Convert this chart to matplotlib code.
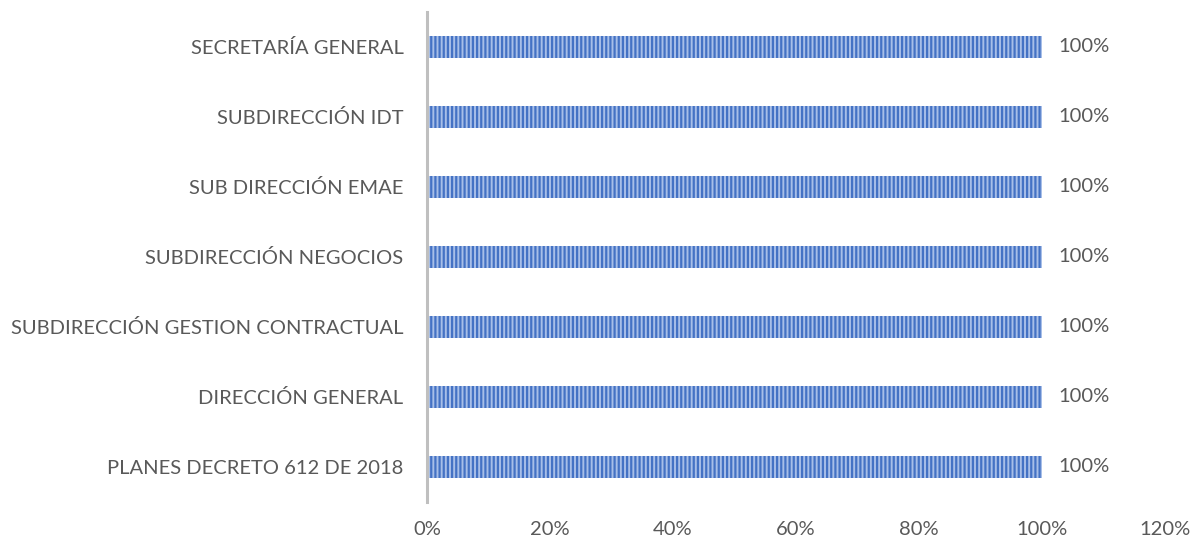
import numpy as np
import matplotlib.pyplot as plt
from matplotlib.ticker import FuncFormatter

plt.rcParams['font.family'] = ['Lato', 'DejaVu Sans']
plt.rcParams['hatch.linewidth'] = 1.6

# Datos
areas = ['PLANES DECRETO 612 DE 2018',
         'DIRECCIÓN GENERAL',
         'SUBDIRECCIÓN GESTION CONTRACTUAL',
         'SUBDIRECCIÓN NEGOCIOS',
         'SUB DIRECCIÓN EMAE',
         'SUBDIRECCIÓN IDT',
         'SECRETARÍA GENERAL']
avance = [1.0, 1.0, 1.0, 1.0, 1.0, 1.0, 1.0]
xticks = [0, 0.2, 0.4, 0.6, 0.8, 1.0, 1.2]

fig = plt.figure(figsize=(11.93, 5.42), dpi=100)
ax = fig.add_axes([0.358, 0.074, 0.6185, 0.904])

y = np.arange(len(areas))
bars = ax.barh(y, avance, height=0.32, color='#A8BFE8', edgecolor='#4472C4',
               hatch='||||', linewidth=0)

txt = '#595959'
fs = 14.5
for yi, v in zip(y, avance):
    ax.text(v + 0.026, yi, '%d%%' % round(v * 100), va='center', ha='left',
            fontsize=fs, color=txt)

ax.set_yticks(y)
ax.set_yticklabels(areas, fontsize=fs, color=txt)
ax.set_ylim(-0.5, len(areas) - 0.5)
ax.set_xlim(0, 1.2)
ax.set_xticks(xticks)
ax.xaxis.set_major_formatter(FuncFormatter(lambda v, p: '%d%%' % round(v * 100)))
ax.tick_params(axis='x', labelsize=fs, labelcolor=txt, length=0, pad=14)
ax.tick_params(axis='y', length=0, pad=17)

for s in ['top', 'right', 'bottom']:
    ax.spines[s].set_visible(False)
ax.spines['left'].set_color('#BFBFBF')
ax.spines['left'].set_linewidth(2.2)

fig.savefig('out.png', dpi=100)
